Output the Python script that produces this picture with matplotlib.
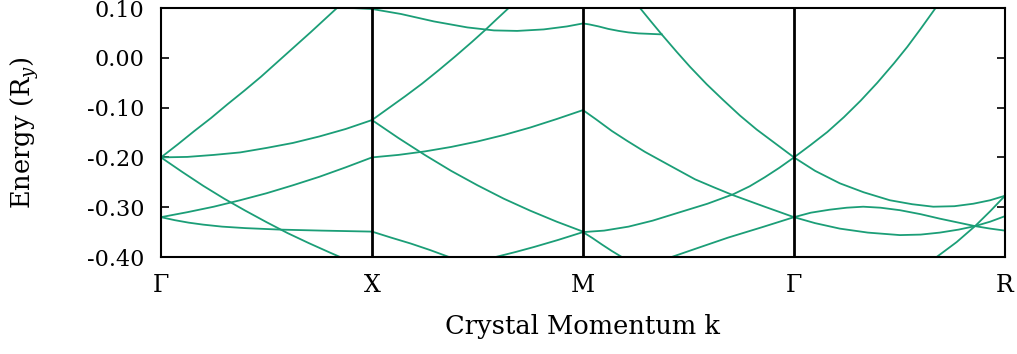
import matplotlib
matplotlib.use("Agg")
import matplotlib.pyplot as plt

plt.rcParams["font.family"] = "DejaVu Serif"
plt.rcParams["mathtext.fontset"] = "dejavuserif"

# high-symmetry points along the path, one unit per segment
K_LABELS = ["Γ", "X", "M", "Γ", "R"]
K_POS = [0, 1, 2, 3, 4]

# bands per segment: (fraction along segment, energy in Ry)
BANDS_GX = [
    ([0.0, 0.079, 0.158, 0.237, 0.316, 0.395, 0.474, 0.553, 0.632, 0.711, 0.834],
     [-0.200, -0.174, -0.147, -0.121, -0.093, -0.066, -0.038, -0.008, 0.022, 0.052, 0.100]),
    ([0.0, 0.125, 0.25, 0.375, 0.5, 0.625, 0.75, 0.875, 1.0],
     [-0.200, -0.199, -0.195, -0.190, -0.181, -0.171, -0.158, -0.143, -0.125]),
    ([0.0, 0.1, 0.2, 0.3, 0.4, 0.5, 0.6, 0.7, 0.8, 0.849],
     [-0.200, -0.229, -0.257, -0.283, -0.307, -0.330, -0.352, -0.372, -0.391, -0.400]),
    ([0.0, 0.125, 0.25, 0.375, 0.5, 0.625, 0.75, 0.875, 1.0],
     [-0.320, -0.310, -0.299, -0.286, -0.272, -0.256, -0.239, -0.220, -0.200]),
    ([0.0, 0.065, 0.131, 0.2, 0.289, 0.4, 0.565, 0.762, 1.0],
     [-0.320, -0.326, -0.331, -0.335, -0.339, -0.342, -0.345, -0.347, -0.349]),
    ([0.904, 1.0],
     [0.100, 0.098]),
]

BANDS_XM = [
    ([0.0, 0.137, 0.294, 0.452, 0.578, 0.688, 0.814, 0.924, 1.0],
     [0.098, 0.088, 0.073, 0.061, 0.055, 0.054, 0.057, 0.063, 0.069]),
    ([0.0, 0.079, 0.158, 0.237, 0.316, 0.395, 0.474, 0.537, 0.592, 0.648],
     [-0.125, -0.101, -0.077, -0.052, -0.025, 0.003, 0.032, 0.056, 0.078, 0.100]),
    ([0.0, 0.125, 0.25, 0.375, 0.5, 0.625, 0.75, 0.875, 1.0],
     [-0.125, -0.161, -0.195, -0.227, -0.256, -0.283, -0.307, -0.329, -0.349]),
    ([0.0, 0.125, 0.25, 0.375, 0.5, 0.625, 0.75, 0.875, 1.0],
     [-0.200, -0.195, -0.188, -0.179, -0.168, -0.155, -0.140, -0.123, -0.105]),
    ([0.0, 0.09, 0.184, 0.275, 0.365],
     [-0.349, -0.361, -0.373, -0.386, -0.400]),
    ([0.586, 0.68, 0.767, 0.88, 1.0],
     [-0.400, -0.390, -0.380, -0.366, -0.350]),
]

BANDS_MG = [
    ([0.0, 0.03, 0.074, 0.12, 0.169, 0.215, 0.263, 0.32, 0.373],
     [0.069, 0.067, 0.063, 0.058, 0.054, 0.051, 0.049, 0.048, 0.047]),
    ([0.270, 0.322, 0.373, 0.444, 0.507, 0.586, 0.665, 0.744, 0.823, 0.902, 1.0],
     [0.100, 0.073, 0.047, 0.012, -0.018, -0.053, -0.085, -0.116, -0.144, -0.169, -0.200]),
    ([0.0, 0.06, 0.137, 0.21, 0.294, 0.41, 0.531, 0.62, 0.712, 0.861, 1.0],
     [-0.105, -0.123, -0.147, -0.167, -0.189, -0.216, -0.244, -0.260, -0.276, -0.299, -0.320]),
    ([0.0, 0.1, 0.216, 0.33, 0.452, 0.59, 0.712, 0.79, 0.861, 0.93, 1.0],
     [-0.350, -0.347, -0.339, -0.327, -0.311, -0.293, -0.274, -0.258, -0.240, -0.221, -0.200]),
    ([0.0, 0.045, 0.09, 0.137, 0.184],
     [-0.350, -0.362, -0.375, -0.388, -0.400]),
    ([0.420, 0.55, 0.688, 0.85, 1.0],
     [-0.400, -0.381, -0.361, -0.340, -0.320]),
]

BANDS_GR = [
    ([0.0, 0.079, 0.158, 0.237, 0.316, 0.395, 0.474, 0.537, 0.600, 0.671],
     [-0.200, -0.175, -0.149, -0.119, -0.086, -0.050, -0.011, 0.022, 0.058, 0.100]),
    ([0.0, 0.1, 0.217, 0.33, 0.454, 0.56, 0.660, 0.76, 0.850, 0.93, 1.0],
     [-0.200, -0.227, -0.252, -0.270, -0.286, -0.294, -0.299, -0.298, -0.293, -0.286, -0.277]),
    ([0.0, 0.08, 0.169, 0.25, 0.328, 0.41, 0.502, 0.6, 0.691, 0.78, 0.858, 0.93, 1.0],
     [-0.320, -0.311, -0.305, -0.301, -0.299, -0.301, -0.306, -0.314, -0.323, -0.331, -0.338, -0.343, -0.347]),
    ([0.0, 0.1, 0.217, 0.35, 0.502, 0.6, 0.691, 0.78, 0.858, 0.93, 1.0],
     [-0.320, -0.332, -0.343, -0.351, -0.356, -0.355, -0.351, -0.345, -0.338, -0.329, -0.318]),
    ([0.676, 0.771, 0.858, 0.93, 1.0],
     [-0.400, -0.370, -0.338, -0.308, -0.277]),
]

SEGMENTS = [BANDS_GX, BANDS_XM, BANDS_MG, BANDS_GR]

BAND_COLOR = "#1b9e77"

fig = plt.figure(figsize=(10.17, 3.54), dpi=100)
ax = fig.add_axes([0.1583, 0.274, 0.8299, 0.7034])

for start, bands in zip(K_POS, SEGMENTS):
    for t, e in bands:
        ax.plot([start + v for v in t], e, color=BAND_COLOR, lw=1.3,
                solid_joinstyle="round", zorder=2)

# vertical markers at the interior symmetry points
for k in K_POS[1:-1]:
    ax.axvline(k, color="black", lw=2.0, zorder=3)

ax.set_xlim(K_POS[0], K_POS[-1])
ax.set_ylim(-0.40, 0.10)
ax.set_xticks(K_POS)
ax.set_xticklabels(K_LABELS, fontsize=17)
ax.set_yticks([0.10, 0.00, -0.10, -0.20, -0.30, -0.40])
ax.set_yticklabels(["0.10", "0.00", "-0.10", "-0.20", "-0.30", "-0.40"],
                   fontsize=16)

ax.tick_params(axis="x", length=0, pad=12)
ax.tick_params(axis="y", direction="in", length=6, width=1.2, pad=12,
               left=True, right=True)
for sp in ax.spines.values():
    sp.set_linewidth(1.5)

ax.set_xlabel("Crystal Momentum k", fontsize=18.5)
ax.xaxis.set_label_coords(0.5, -0.28)
ax.xaxis.label.set_va("center")
ax.set_ylabel("Energy (R$_y$)", fontsize=18.5)
ax.yaxis.set_label_coords(-0.162, 0.5)
ax.yaxis.label.set_va("center")

fig.savefig("out.png", dpi=100)
